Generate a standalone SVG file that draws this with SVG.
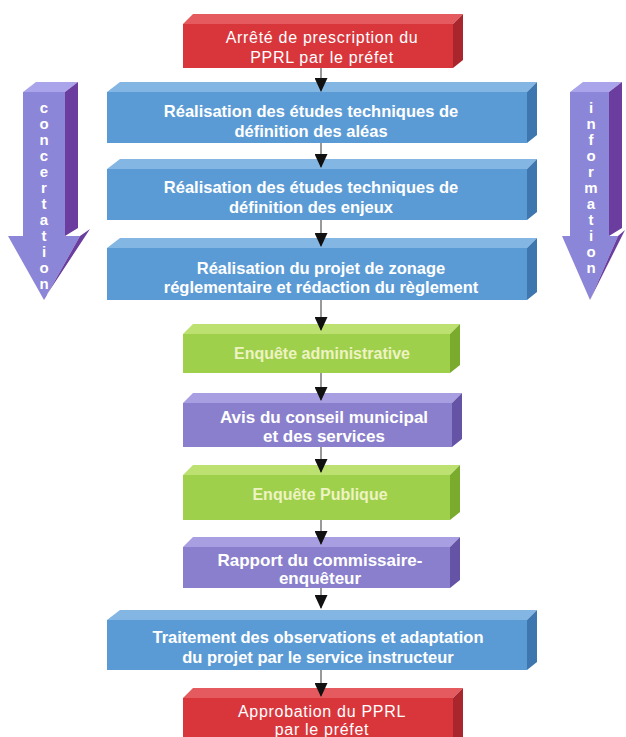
<svg xmlns="http://www.w3.org/2000/svg" width="626" height="737" viewBox="0 0 626 737">
<defs>
<style>
.t{font-family:"Liberation Sans",Arial,sans-serif;font-size:16.5px;fill:#fff;text-anchor:middle;font-weight:bold}
.tn{font-weight:normal;font-size:16px;letter-spacing:0.7px}
.tg{fill:#eef3c4;font-size:16px}
.tp{font-size:17px}
.rf{fill:#d9363c}.rt{fill:#e55a5f}.rs{fill:#a8262c}
.bf{fill:#5b9bd5}.bt{fill:#84b6e3}.bs{fill:#3e77b0}
.gf{fill:#9fd04b}.gt{fill:#bde170}.gs{fill:#7aab2d}
.pf{fill:#8a7fcc}.pt{fill:#a89ee2}.ps{fill:#6553a6}
.af{fill:#8c86d8}.at{fill:#aaa5ea}.as{fill:#6a3d9e}
.lt{font-family:"Liberation Sans",Arial,sans-serif;font-size:15px;font-weight:bold;fill:#fff;text-anchor:middle}
.c{stroke:#555;stroke-width:1.2;fill:none}
</style>
<marker id="ah2" markerWidth="14" markerHeight="13" refX="13" refY="6.5" orient="auto" markerUnits="userSpaceOnUse" viewBox="0 0 14 13">
<path d="M0,0 L14,6.5 L0,13 Z" fill="#111"/>
</marker>
</defs>
<rect width="626" height="737" fill="#ffffff"/>

<g id="concertation">
<polygon class="at" points="23,92 36,82 78,82 65,92"/>
<polygon class="as" points="65,92 78,82 78,228 65,236"/>
<polygon class="af" points="23,92 65,92 65,236 80,236 44,300 8,236 23,236"/>
<polygon class="as" points="80,236 90,229 46,296 44,300"/>
<text class="lt" x="44" y="113">c</text>
<text class="lt" x="44" y="129">o</text>
<text class="lt" x="44" y="145">n</text>
<text class="lt" x="44" y="161">c</text>
<text class="lt" x="44" y="177">e</text>
<text class="lt" x="44" y="193">r</text>
<text class="lt" x="44" y="209">t</text>
<text class="lt" x="44" y="225">a</text>
<text class="lt" x="44" y="241">t</text>
<text class="lt" x="44" y="257">i</text>
<text class="lt" x="44" y="273">o</text>
<text class="lt" x="44" y="289">n</text>
</g>

<g id="information">
<polygon class="at" points="570,92 583,82 622,82 609,92"/>
<polygon class="as" points="609,92 622,82 622,228 609,236"/>
<polygon class="af" points="570,92 609,92 609,236 618,236 590,300 562,236 570,236"/>
<polygon class="as" points="618,236 625,230 592,296 590,300"/>
<text class="lt" x="591" y="113">i</text>
<text class="lt" x="591" y="129">n</text>
<text class="lt" x="591" y="145">f</text>
<text class="lt" x="591" y="161">o</text>
<text class="lt" x="591" y="177">r</text>
<text class="lt" x="591" y="193">m</text>
<text class="lt" x="591" y="209">a</text>
<text class="lt" x="591" y="225">t</text>
<text class="lt" x="591" y="241">i</text>
<text class="lt" x="591" y="257">o</text>
<text class="lt" x="591" y="273">n</text>
</g>

<g id="n1">
<polygon class="rt" points="183,24 193,14 463,14 453,24"/>
<polygon class="rs" points="453,24 463,14 463,60 453,68"/>
<rect class="rf" x="183" y="24" width="270" height="44"/>
<text class="t tn" x="322" y="43">Arrêté de prescription du</text>
<text class="t tn" x="322" y="63">PPRL par le préfet</text>
</g>

<g id="n2">
<polygon class="bt" points="107,92 120,82 537,82 527,92"/>
<polygon class="bs" points="527,92 537,82 537,135 527,143"/>
<rect class="bf" x="107" y="92" width="420" height="51"/>
<text class="t" x="311" y="117">Réalisation des études techniques de</text>
<text class="t" x="311" y="137">définition des aléas</text>
</g>

<g id="n3">
<polygon class="bt" points="107,169 120,159 537,159 527,169"/>
<polygon class="bs" points="527,169 537,159 537,212 527,220"/>
<rect class="bf" x="107" y="169" width="420" height="51"/>
<text class="t" x="311" y="193">Réalisation des études techniques de</text>
<text class="t" x="311" y="213">définition des enjeux</text>
</g>

<g id="n4">
<polygon class="bt" points="107,248 120,238 537,238 527,248"/>
<polygon class="bs" points="527,248 537,238 537,292 527,300"/>
<rect class="bf" x="107" y="248" width="420" height="52"/>
<text class="t" x="321" y="274">Réalisation du projet de zonage</text>
<text class="t" x="321" y="293">réglementaire et rédaction du règlement</text>
</g>

<g id="n5">
<polygon class="gt" points="183,334 193,324 460,324 450,334"/>
<polygon class="gs" points="450,334 460,324 460,365 450,373"/>
<rect class="gf" x="183" y="334" width="267" height="39"/>
<text class="t tg" x="322" y="359">Enquête administrative</text>
</g>

<g id="n6">
<polygon class="pt" points="183,403 193,393 462,393 452,403"/>
<polygon class="ps" points="452,403 462,393 462,439 452,447"/>
<rect class="pf" x="183" y="403" width="269" height="44"/>
<text class="t tp" x="324" y="423">Avis du conseil municipal</text>
<text class="t tp" x="324" y="442">et des services</text>
</g>

<g id="n7">
<polygon class="gt" points="183,475 193,465 460,465 450,475"/>
<polygon class="gs" points="450,475 460,465 460,512 450,520"/>
<rect class="gf" x="183" y="475" width="267" height="45"/>
<text class="t tg" x="320" y="500">Enquête Publique</text>
</g>

<g id="n8">
<polygon class="pt" points="183,547 193,537 460,537 450,547"/>
<polygon class="ps" points="450,547 460,537 460,580 450,588"/>
<rect class="pf" x="183" y="547" width="267" height="41"/>
<text class="t tp" x="320" y="566">Rapport du commissaire-</text>
<text class="t tp" x="320" y="584">enquêteur</text>
</g>

<g id="n9">
<polygon class="bt" points="107,620 120,610 537,610 527,620"/>
<polygon class="bs" points="527,620 537,610 537,662 527,670"/>
<rect class="bf" x="107" y="620" width="420" height="50"/>
<text class="t" x="318" y="643">Traitement des observations et adaptation</text>
<text class="t" x="318" y="663">du projet par le service instructeur</text>
</g>

<g id="n10">
<polygon class="rt" points="183,698 193,688 463,688 453,698"/>
<polygon class="rs" points="453,698 463,688 463,737 453,737"/>
<rect class="rf" x="183" y="698" width="270" height="40"/>
<text class="t tn" x="322" y="717">Approbation du PPRL</text>
<text class="t tn" x="322" y="735">par le préfet</text>
</g>

<g id="connectors">
<line class="c" x1="321" y1="68" x2="321" y2="91" marker-end="url(#ah2)"/>
<line class="c" x1="321" y1="143" x2="321" y2="167" marker-end="url(#ah2)"/>
<line class="c" x1="321" y1="220" x2="321" y2="246" marker-end="url(#ah2)"/>
<line class="c" x1="321" y1="300" x2="321" y2="330" marker-end="url(#ah2)"/>
<line class="c" x1="321" y1="373" x2="321" y2="400" marker-end="url(#ah2)"/>
<line class="c" x1="321" y1="447" x2="321" y2="472" marker-end="url(#ah2)"/>
<line class="c" x1="321" y1="520" x2="321" y2="544" marker-end="url(#ah2)"/>
<line class="c" x1="321" y1="588" x2="321" y2="608" marker-end="url(#ah2)"/>
<line class="c" x1="321" y1="670" x2="321" y2="696" marker-end="url(#ah2)"/>
</g>
</svg>
